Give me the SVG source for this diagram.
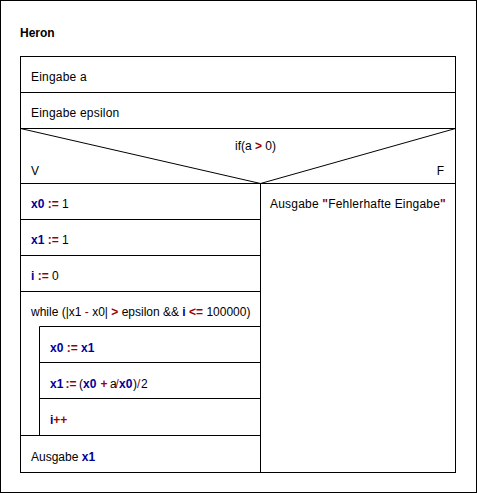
<svg xmlns="http://www.w3.org/2000/svg" width="477" height="493" viewBox="0 0 477 493">
<style>
.ln{stroke:#000;stroke-width:1;fill:none}
text{font-family:"Liberation Sans",Arial,sans-serif;font-size:12px;fill:#000}
.w{letter-spacing:0.2px}
.v{fill:#000099;font-weight:bold}
.o{fill:#990000;font-weight:bold}
.os{fill:#990000}
.t{font-weight:bold}
</style>
<rect x="0.5" y="0.5" width="476" height="492" fill="#fff" stroke="#000"/>
<text id="title" class="t" x="20" y="37">Heron</text>
<g id="connectors" class="ln">
<rect x="20.5" y="56.5" width="435" height="416"/>
<line x1="20.5" y1="92.5" x2="455.5" y2="92.5"/>
<line x1="20.5" y1="128.5" x2="455.5" y2="128.5"/>
<line x1="20.5" y1="128.5" x2="260.5" y2="183.5"/>
<line x1="455.5" y1="128.5" x2="260.5" y2="183.5"/>
<line x1="20.5" y1="183.5" x2="455.5" y2="183.5"/>
<line x1="260.5" y1="183.5" x2="260.5" y2="472.5"/>
<line x1="20.5" y1="219.5" x2="260.5" y2="219.5"/>
<line x1="20.5" y1="255.5" x2="260.5" y2="255.5"/>
<line x1="20.5" y1="291.5" x2="260.5" y2="291.5"/>
<line x1="39.5" y1="326.5" x2="260.5" y2="326.5"/>
<line x1="39.5" y1="362.5" x2="260.5" y2="362.5"/>
<line x1="39.5" y1="398.5" x2="260.5" y2="398.5"/>
<line x1="39.5" y1="326.5" x2="39.5" y2="435.5"/>
<line x1="20.5" y1="435.5" x2="260.5" y2="435.5"/>
</g>
<g id="n1"><text class="w" x="31" y="81">Eingabe a</text></g>
<g id="n2"><text class="w" x="31" y="117">Eingabe epsilon</text></g>
<g id="n3">
<text x="235" y="150">if(a <tspan class="o">&gt;</tspan> 0)</text>
<text x="31" y="175" fill="#000">V</text>
<text x="444" y="175" fill="#000" text-anchor="end">F</text>
</g>
<g id="n4"><text x="31" y="208"><tspan class="v">x0</tspan> <tspan class="o">:=</tspan> 1</text></g>
<g id="n5"><text x="31" y="244"><tspan class="v">x1</tspan> <tspan class="o">:=</tspan> 1</text></g>
<g id="n6"><text x="31" y="280"><tspan class="v">i</tspan> <tspan class="o">:=</tspan> 0</text></g>
<g id="n7"><text x="31" y="316">while (|x1 <tspan class="os">-</tspan> x0| <tspan class="o">&gt;</tspan> epsilon &amp;&amp; <tspan class="v">i</tspan> <tspan class="o">&lt;=</tspan> 100000)</text></g>
<g id="n8"><text x="50" y="352"><tspan class="v">x0</tspan> <tspan class="o">:=</tspan> <tspan class="v">x1</tspan></text></g>
<g id="n9"><text x="50" y="388"><tspan class="v">x1</tspan><tspan class="o" x="65.5">:=</tspan><tspan x="79">(</tspan><tspan class="v" x="83">x0</tspan><tspan class="o" x="100.5">+</tspan><tspan x="110">a</tspan><tspan class="os" x="115.5">/</tspan><tspan class="v" x="119">x0</tspan><tspan x="133">)</tspan><tspan class="os" x="137">/</tspan><tspan x="141">2</tspan></text></g>
<g id="n10"><text x="50" y="424"><tspan class="v">i</tspan><tspan class="o">++</tspan></text></g>
<g id="n11"><text x="31" y="461">Ausgabe <tspan class="v">x1</tspan></text></g>
<g id="n12"><text class="w" x="270" y="208">Ausgabe <tspan class="o">"</tspan>Fehlerhafte Eingabe<tspan class="o">"</tspan></text></g>
</svg>
